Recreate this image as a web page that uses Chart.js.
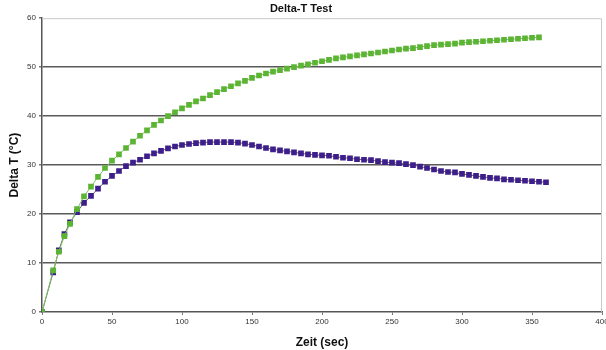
<!DOCTYPE html>
<html>
<head>
<meta charset="utf-8">
<script src="https://cdn.jsdelivr.net/npm/chart.js@4"></script>
<style>
    html, body { margin: 0; padding: 0; background: #fff; }
    #chart_box { width: 606px; height: 350px; }
</style>
</head>
<body>
<div id="chart_box"><canvas id="delta_canvas"></canvas></div>
<script>
// Zeit in Sekunden
let time_values = [0, 8, 12, 16, 20, 25, 30, 35, 40, 45, 50, 55, 60, 65, 70, 75, 80, 85, 90, 95,
    100, 105, 110, 115, 120, 125, 130, 135, 140, 145, 150, 155, 160, 165, 170, 175, 180, 185, 190, 195,
    200, 205, 210, 215, 220, 225, 230, 235, 240, 245, 250, 255, 260, 265, 270, 275, 280, 285, 290, 295,
    300, 305, 310, 315, 320, 325, 330, 335, 340, 345, 350, 355, 360];

let green_values = [0, 8.5, 12.3, 15.5, 18.0, 21.0, 23.6, 25.6, 27.6, 29.4, 30.9, 32.2, 33.5, 34.8, 36.0, 37.1, 38.2, 39.1, 40.0, 40.8,
    41.6, 42.3, 43.0, 43.6, 44.3, 44.9, 45.5, 46.1, 46.7, 47.2, 47.8, 48.3, 48.7, 49.1, 49.4, 49.7, 50.0, 50.3, 50.6, 50.9,
    51.2, 51.5, 51.8, 52.0, 52.2, 52.4, 52.6, 52.8, 53.0, 53.2, 53.4, 53.6, 53.8, 53.9, 54.1, 54.3, 54.5, 54.6, 54.7, 54.8,
    55.0, 55.1, 55.2, 55.3, 55.4, 55.5, 55.6, 55.7, 55.8, 55.9, 56.0, 56.1, null];

let purple_values = [0, 8.1, 12.6, 15.9, 18.3, 20.4, 22.3, 23.7, 25.2, 26.6, 27.8, 28.8, 29.8, 30.5, 31.1, 31.8, 32.4, 32.9, 33.4, 33.8,
    34.1, 34.3, 34.5, 34.6, 34.7, 34.7, 34.7, 34.7, 34.6, 34.4, 34.1, 33.8, 33.5, 33.2, 33.0, 32.8, 32.6, 32.4, 32.2, 32.1,
    32.0, 31.9, 31.7, 31.5, 31.4, 31.2, 31.1, 31.0, 30.8, 30.6, 30.5, 30.4, 30.2, 30.0, 29.7, 29.4, 29.1, 28.8, 28.6, 28.5,
    28.2, 28.0, 27.8, 27.6, 27.4, 27.3, 27.1, 27.0, 26.9, 26.8, 26.7, 26.6, 26.5];

let x_ticks = [0, 50, 100, 150, 200, 250, 300, 350, 400];
let y_ticks = [0, 10, 20, 30, 40, 50, 60];

const font_name = "'Liberation Sans', Arial, sans-serif";

function to_points(values){
    let pts = [];
    for (let i = 0; i < time_values.length; i++){
        if (values[i] !== null) pts.push({x: time_values[i], y: values[i]});
    }
    return pts;
}

// leichter Rahmen um die Plotfläche
const frame_plugin = {
    id: "frame_plugin",
    beforeDatasetsDraw(chart){
        const a = chart.chartArea;
        const ctx = chart.ctx;
        ctx.save();
        ctx.strokeStyle = "#c8c8c8";
        ctx.lineWidth = 1;
        ctx.beginPath();
        ctx.moveTo(a.left, a.top + 0.5);
        ctx.lineTo(a.right - 0.5, a.top + 0.5);
        ctx.lineTo(a.right - 0.5, a.bottom);
        ctx.stroke();
        ctx.restore();
    }
};

new Chart(document.getElementById("delta_canvas"), {
    type: "scatter",
    data: {
        datasets: [
            {
                label: "Serie 1",
                data: to_points(green_values),
                showLine: true,
                borderColor: "#7cc460",
                borderWidth: 1,
                backgroundColor: "#5cb434",
                pointBorderColor: "#5cb434",
                pointStyle: "rect",
                pointRadius: 4,
                pointBorderWidth: 0
            },
            {
                label: "Serie 2",
                data: to_points(purple_values),
                showLine: true,
                borderColor: "#666666",
                borderWidth: 1,
                backgroundColor: "#3d1e8a",
                pointBorderColor: "#3d1e8a",
                pointStyle: "rect",
                pointRadius: 4,
                pointBorderWidth: 0
            }
        ]
    },
    options: {
        responsive: true,
        maintainAspectRatio: false,
        animation: false,
        layout: { padding: { right: 4 } },
        plugins: {
            legend: { display: false },
            tooltip: { enabled: false },
            title: {
                display: true,
                text: "Delta-T Test",
                color: "#111",
                font: { family: font_name, size: 11, weight: "bold" },
                padding: { top: 2, bottom: 3 }
            }
        },
        scales: {
            x: {
                type: "linear",
                min: 0,
                max: 400,
                afterBuildTicks: (scale) => { scale.ticks = x_ticks.map(v => ({value: v})); },
                afterFit: (scale) => { scale.height = 38; scale.paddingRight = 0; scale.paddingLeft = 0; },
                ticks: {
                    color: "#333",
                    font: { family: font_name, size: 8 },
                    padding: 2,
                    maxRotation: 0
                },
                grid: {
                    drawOnChartArea: false,
                    tickLength: 3,
                    color: "#777"
                },
                border: { color: "#555", width: 1.5 },
                title: {
                    display: true,
                    text: "Zeit (sec)",
                    color: "#111",
                    font: { family: font_name, size: 12, weight: "bold" },
                    padding: { top: 2, bottom: 0 }
                }
            },
            y: {
                min: 0,
                max: 60,
                afterBuildTicks: (scale) => { scale.ticks = y_ticks.map(v => ({value: v})); },
                afterFit: (scale) => { scale.width = 42; },
                ticks: {
                    color: "#333",
                    font: { family: font_name, size: 8 },
                    padding: 3
                },
                grid: {
                    color: (ctx) => (ctx.tick && (ctx.tick.value === 0 || ctx.tick.value === 60)) ? "rgba(0,0,0,0)" : "#5a5a5a",
                    lineWidth: 1.5,
                    tickLength: 3,
                    tickColor: "#777"
                },
                border: { color: "#555", width: 1.5 },
                title: {
                    display: true,
                    text: "Delta T (°C)",
                    color: "#111",
                    font: { family: font_name, size: 12, weight: "bold" },
                    padding: { top: 7, bottom: 0 }
                }
            }
        }
    },
    plugins: [frame_plugin]
});
</script>
</body>
</html>
